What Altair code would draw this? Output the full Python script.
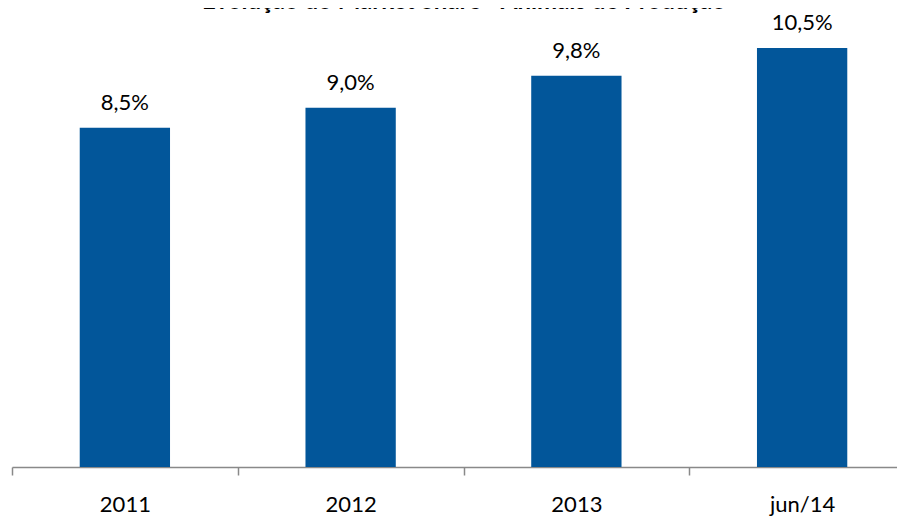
import altair as alt
import pandas as pd

categories = ["2011", "2012", "2013", "jun/14"]
values = [8.5, 9.0, 9.8, 10.5]
labels = ["8,5%", "9,0%", "9,8%", "10,5%"]
title_text = "Evolução do Market Share - Animais de Produção"

df = pd.DataFrame({"cat": categories, "val": values, "lab": labels})

FONT = "Lato"
BAR = "#02569A"
AX = "#898989"

x = alt.X(
    "cat:N",
    sort=categories,
    scale=alt.Scale(range=[0, 903], paddingInner=0, paddingOuter=0),
    axis=alt.Axis(
        title=None,
        labelAngle=0,
        labelFont=FONT,
        labelFontSize=22,
        labelColor="#000000",
        labelPadding=19,
        domainColor=AX,
        domainWidth=1.5,
        tickColor=AX,
        tickWidth=1.5,
        tickSize=8,
        tickBand="extent",
    ),
)
y = alt.Y("val:Q", scale=alt.Scale(domain=[0, 11.5], nice=False), axis=None)

base = alt.Chart(df)

bars = base.mark_bar(color=BAR, width=alt.RelativeBandSize(0.4)).encode(x=x, y=y)

texts = base.mark_text(
    font=FONT, fontSize=22, color="#000000", baseline="alphabetic", dy=-18
).encode(x=x, y=y, text="lab:N")

title = alt.Chart(pd.DataFrame({"t": [title_text]})).mark_text(
    font=FONT, fontSize=24, fontWeight="bold", color="#000000",
    baseline="alphabetic", align="center"
).encode(x=alt.value(452), y=alt.value(1), text="t:N")

chart = (
    alt.layer(bars, texts, title)
    .properties(
        width=885,
        height=459,
        autosize=alt.AutoSizeParams(type="none"),
        padding={"left": 4, "top": 0, "right": 0, "bottom": 50},
    )
    .configure_view(stroke=None)
)

chart.save("out.html", embed_options={"renderer": "svg", "actions": False})
